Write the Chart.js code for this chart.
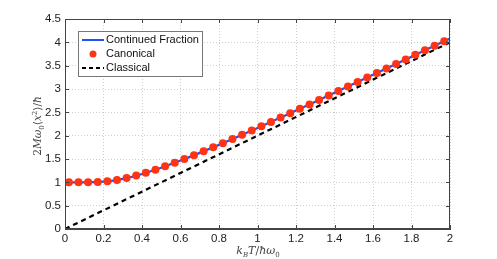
<!DOCTYPE html>
<html>
<head>
<meta charset="utf-8">
<script src="https://cdn.jsdelivr.net/npm/chart.js@4"></script>
<style>
	html, body { margin: 0; padding: 0; background: #fff; }
	#wrap { position: relative; width: 497px; height: 259px; overflow: hidden; }
	#wrap canvas { position: absolute; left: 0; top: 0; }
	.lbl { position: absolute; font-family: "DejaVu Serif", "Liberation Serif", serif; color: #444;
		white-space: nowrap; text-align: center; height: 20px; line-height: 20px; }
	.lbl sub, .lbl sup { font-size: 7px; line-height: 0; }
	#ylab { font-size: 10.5px; width: 160px; left: -43px; top: 116px; transform: rotate(-90deg); }
	#xlab { font-size: 11px; width: 160px; left: 178px; top: 241px; }
</style>
</head>
<body>
<div id="wrap">
	<canvas id="chart" width="497" height="259"></canvas>
	<div class="lbl" id="ylab">2<i>Mω</i><sub>0</sub>⟨<i>x</i><sup>2</sup>⟩/<i>ħ</i></div>
	<div class="lbl" id="xlab"><i>k</i><sub><i>B</i></sub><i>T</i>/<i>ħω</i><sub>0</sub></div>
</div>
<script>
// temperature axis, k_B T / hbar omega_0
const canonicalX = [0.02, 0.07, 0.12, 0.17, 0.22, 0.27, 0.32, 0.37, 0.42, 0.47,
	0.52, 0.57, 0.62, 0.67, 0.72, 0.77, 0.82, 0.87, 0.92, 0.97,
	1.02, 1.07, 1.12, 1.17, 1.22, 1.27, 1.32, 1.37, 1.42, 1.47,
	1.52, 1.57, 1.62, 1.67, 1.72, 1.77, 1.82, 1.87, 1.92, 1.97];
const canonicalY = [1.000, 1.000, 1.000, 1.006, 1.022, 1.051, 1.092, 1.144, 1.204, 1.270,
	1.343, 1.418, 1.498, 1.580, 1.665, 1.751, 1.839, 1.927, 2.018, 2.109,
	2.201, 2.293, 2.387, 2.481, 2.575, 2.670, 2.765, 2.860, 2.957, 3.053,
	3.149, 3.245, 3.342, 3.440, 3.536, 3.634, 3.732, 3.829, 3.927, 4.024];

const fractionX = [0.01, 0.1, 0.2, 0.3, 0.4, 0.5, 0.6, 0.7, 0.8, 0.9, 1.0,
	1.1, 1.2, 1.3, 1.4, 1.5, 1.6, 1.7, 1.8, 1.9, 2.0];
const fractionY = [1.000, 1.000, 1.014, 1.074, 1.179, 1.313, 1.466, 1.631, 1.803, 1.982, 2.164,
	2.350, 2.537, 2.727, 2.918, 3.110, 3.304, 3.497, 3.693, 3.888, 4.083];

const classicalX = [0, 2];
const classicalY = [0, 4];

const xTicks = [0, 0.2, 0.4, 0.6, 0.8, 1, 1.2, 1.4, 1.6, 1.8, 2];
const yTicks = [0, 0.5, 1, 1.5, 2, 2.5, 3, 3.5, 4, 4.5];

const seriesNames = ['Continued Fraction', 'Canonical', 'Classical'];
const BLUE = '#1f4fff', RED = '#ff3414', FRAME = '#444';

const pts = (xs, ys) => xs.map((x, i) => ({ x, y: ys[i] }));

// matlab-style box: top/right edges, inward ticks, legend inside the axes
const boxPlugin = {
	id: 'box',
	afterDraw(chart) {
		const { ctx, chartArea: a, scales: { x, y } } = chart;
		ctx.save();
		ctx.strokeStyle = FRAME;
		ctx.lineWidth = 1;
		ctx.strokeRect(a.left + 0.5, a.top + 0.5, a.right - a.left - 1, a.bottom - a.top - 1);
		ctx.beginPath();
		for (const v of xTicks) {
			const px = Math.round(x.getPixelForValue(v)) + 0.5;
			ctx.moveTo(px, a.bottom); ctx.lineTo(px, a.bottom - 4);
			ctx.moveTo(px, a.top); ctx.lineTo(px, a.top + 4);
		}
		for (const v of yTicks) {
			const py = Math.round(y.getPixelForValue(v)) + 0.5;
			ctx.moveTo(a.left, py); ctx.lineTo(a.left + 4, py);
			ctx.moveTo(a.right, py); ctx.lineTo(a.right - 4, py);
		}
		ctx.stroke();

		// legend
		const lx = a.left + 13, ly = a.top + 12, lw = 124, lh = 45;
		ctx.fillStyle = '#fff';
		ctx.fillRect(lx, ly, lw, lh);
		ctx.strokeStyle = '#777';
		ctx.strokeRect(lx + 0.5, ly + 0.5, lw, lh);
		ctx.font = '11px "Liberation Sans", Arial, sans-serif';
		ctx.textBaseline = 'middle';
		const rows = [ly + 9, ly + 23, ly + 37];
		ctx.lineWidth = 2;
		ctx.strokeStyle = BLUE;
		ctx.beginPath(); ctx.moveTo(lx + 4, rows[0]); ctx.lineTo(lx + 26, rows[0]); ctx.stroke();
		ctx.fillStyle = RED;
		ctx.beginPath(); ctx.arc(lx + 15, rows[1], 3.5, 0, Math.PI * 2); ctx.fill();
		ctx.strokeStyle = '#000';
		ctx.setLineDash([4, 3]);
		ctx.beginPath(); ctx.moveTo(lx + 4, rows[2]); ctx.lineTo(lx + 26, rows[2]); ctx.stroke();
		ctx.setLineDash([]);
		ctx.fillStyle = '#111';
		seriesNames.forEach((s, i) => ctx.fillText(s, lx + 28, rows[i]));
		ctx.restore();
	},
};

const tickFont = { family: '"Liberation Sans", Arial, sans-serif', size: 11.5 };
const fmt = v => String(Math.round(v * 10) / 10);

new Chart(document.getElementById('chart'), {
	type: 'line',
	data: {
		datasets: [
			{ label: seriesNames[1], data: pts(canonicalX, canonicalY), showLine: false,
				pointRadius: 4, pointBackgroundColor: RED, pointBorderWidth: 0, order: 0 },
			{ label: seriesNames[0], data: pts(fractionX, fractionY), borderColor: BLUE,
				borderWidth: 2.2, pointRadius: 0, cubicInterpolationMode: 'monotone', order: 1 },
			{ label: seriesNames[2], data: pts(classicalX, classicalY), borderColor: '#000',
				borderWidth: 2.2, borderDash: [5, 4], pointRadius: 0, order: 2 },
		],
	},
	options: {
		responsive: false,
		animation: false,
		layout: { padding: { left: 0, right: 47, top: 19, bottom: 0 } },
		scales: {
			x: {
				type: 'linear', min: 0, max: 2,
				afterFit: s => { s.height = 30; },
				afterBuildTicks: s => { s.ticks = xTicks.map(value => ({ value })); },
				ticks: { color: '#222', font: tickFont, padding: 3, callback: fmt, maxRotation: 0 },
				grid: { color: '#cfcfcf', drawTicks: false },
				border: { color: FRAME, dash: [1, 2] },
			},
			y: {
				type: 'linear', min: 0, max: 4.5,
				afterFit: s => { s.width = 65; },
				afterBuildTicks: s => { s.ticks = yTicks.map(value => ({ value })); },
				ticks: { color: '#222', font: tickFont, padding: 4, callback: fmt },
				grid: { color: '#cfcfcf', drawTicks: false },
				border: { color: FRAME, dash: [1, 2] },
			},
		},
		plugins: { legend: { display: false }, tooltip: { enabled: false } },
	},
	plugins: [boxPlugin],
});
</script>
</body>
</html>
